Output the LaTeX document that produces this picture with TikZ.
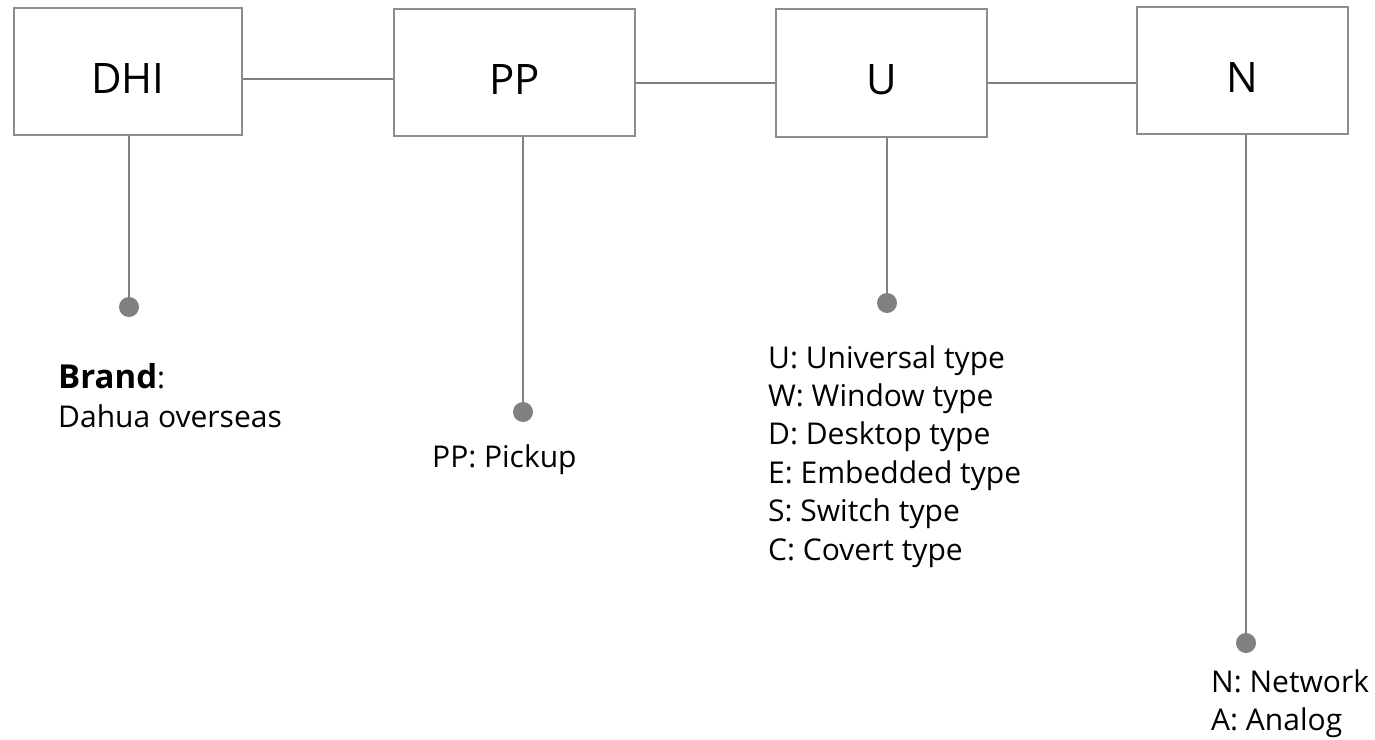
\documentclass[tikz,border=0pt]{standalone}
\usepackage{fontspec}
\setmainfont{Open Sans}
\definecolor{lgrey}{HTML}{808080}
\definecolor{bgrey}{HTML}{8C8C8C}
\begin{document}
\begin{tikzpicture}[x=1pt,y=-1pt,
  codebox/.style={draw=bgrey,line width=1.6pt,inner sep=0pt,text height=43pt,text depth=0pt,font=\fontsize{42}{50}\selectfont},
  conn/.style={draw=lgrey,line width=1.8pt},
  dot/.style={circle,fill=lgrey,inner sep=0pt,minimum size=20pt},
  desc/.style={inner sep=0pt,anchor=base west,font=\fontsize{30}{38}\selectfont}]
\useasboundingbox (0,0) rectangle (1375,739);
\node[codebox,minimum width=228pt,minimum height=127pt] (DHI) at (128,71.5) {DHI};
\node[codebox,minimum width=241pt,minimum height=127pt] (PP) at (514.5,72.5) {PP};
\node[codebox,minimum width=211pt,minimum height=128pt] (U) at (881.5,73) {U};
\node[codebox,minimum width=211pt,minimum height=127pt] (N) at (1242.5,70.5) {N};
\draw[conn] ([yshift=-7.5pt]DHI.east) -- ([yshift=-7.5pt]DHI.east -| PP.west);
\draw[conn] ([yshift=-10.5pt]PP.east) -- ([yshift=-10.5pt]PP.east -| U.west);
\draw[conn] ([yshift=-10pt]U.east) -- ([yshift=-10pt]U.east -| N.west);
\node[dot] (d1) at (129,307) {};
\node[dot] (d2) at (523,412) {};
\node[dot] (d3) at (887,303) {};
\node[dot] (d4) at (1246,643) {};
\draw[conn] (DHI.south -| d1) -- (d1);
\draw[conn] (PP.south -| d2) -- (d2);
\draw[conn] (U.south -| d3) -- (d3);
\draw[conn] (N.south -| d4) -- (d4);
\node[desc] (brand) at (58,388) {\fontsize{33}{38}\selectfont\textbf{Brand}\fontsize{30}{38}\selectfont:};
\node[desc] (dahua) at (58,427) {Dahua overseas};
\node[desc] (pick) at (432,467) {PP: Pickup};
\foreach \t [count=\i] in {U: Universal type,W: Window type,D: Desktop type,E: Embedded type,S: Switch type,C: Covert type}
  \node[desc] (u\i) at (768,{368+38.4*(\i-1)}) {\t};
\node[desc] (n1) at (1211,692) {N: Network};
\node[desc] (n2) at (1211,730) {A: Analog};
\end{tikzpicture}
\end{document}
